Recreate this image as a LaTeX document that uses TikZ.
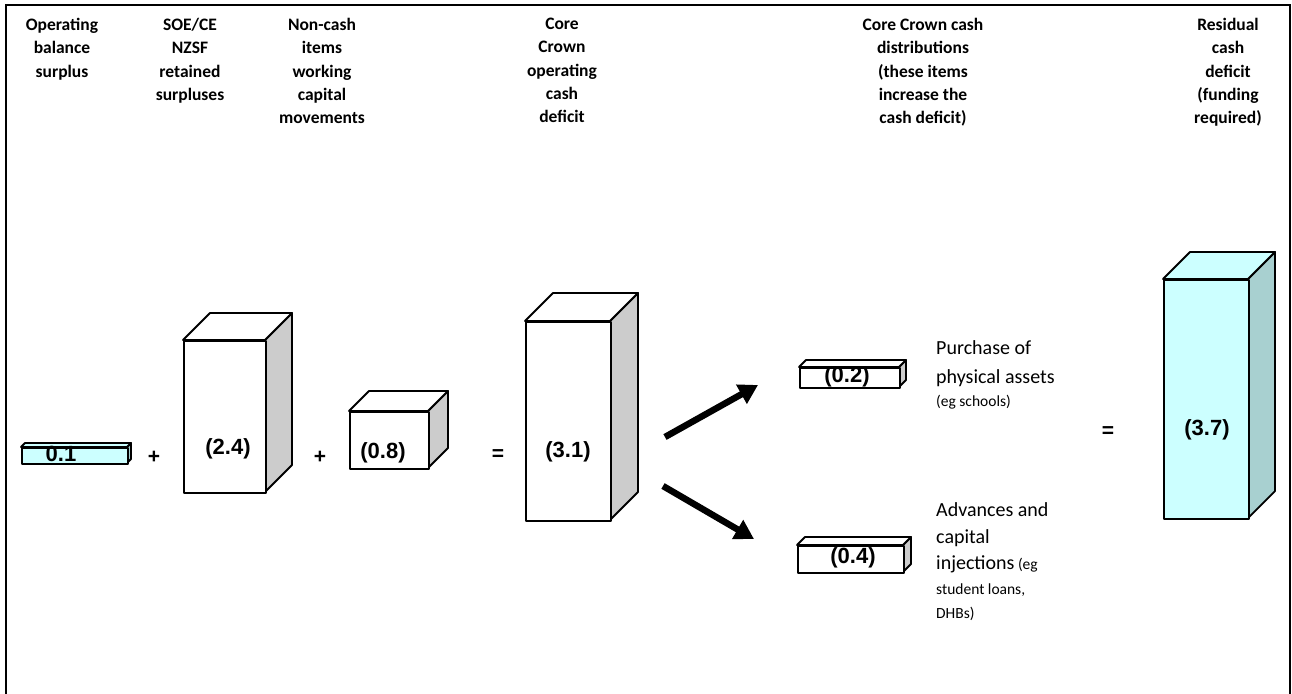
\documentclass[tikz,border=0pt]{standalone}
\usepackage{fontspec}
\setmainfont{Carlito}
\newfontfamily\labfont{Liberation Sans}
\usetikzlibrary{arrows.meta}
\definecolor{cyanf}{HTML}{CCFFFF}
\definecolor{cyans}{HTML}{A8D0D0}
\definecolor{greys}{HTML}{CCCCCC}
\tikzset{
  hdr/.style={anchor=north, align=center, inner sep=0pt, font=\bfseries\fontsize{17.5}{23.3}\selectfont},
  face/.style={draw=black, line width=1.8pt, line join=round},
  val/.style={inner sep=0pt, font=\labfont\bfseries\fontsize{22}{24}\selectfont},
  sign/.style={inner sep=0pt, font=\labfont\bfseries\fontsize{21}{24}\selectfont},
  big/.style={anchor=base west, inner sep=0pt, font=\fontsize{20}{24}\selectfont},
  small/.style={anchor=base west, inner sep=0pt, font=\fontsize{15.5}{18}\selectfont},
  flow/.style={line width=6.5pt, -{Triangle[length=19pt,width=21pt]}}
}
% name, x1, y1, x2, y2, depth, front colour, side colour
\newcommand\cubo[8]{%
  \path[face, fill=#8] (#4,#5) -- (#4+#6,#5-#6) -- (#4+#6,#3-#6) -- (#4,#3) -- cycle;
  \path[face, fill=#7] (#2,#3) -- (#2+#6,#3-#6) -- (#4+#6,#3-#6) -- (#4,#3) -- cycle;
  \node[face, fill=#7, inner sep=0pt, minimum width={#4-#2}, minimum height={#5-#3}, anchor=north west] (#1) at (#2,#3) {};
}
\begin{document}
\begin{tikzpicture}[x=1pt,y=-1pt]
\useasboundingbox (0,0) rectangle (1292,693);
% frame
\draw[line width=2pt] (6,694) -- (6,5) -- (1290,5) -- (1290,694);

% headers
\node[hdr] (h1) at (62,18) {Operating\\balance\\surplus};
\node[hdr] (h2) at (190,18) {SOE/CE\\NZSF\\retained\\surpluses};
\node[hdr] (h3) at (322,18) {Non-cash\\items\\working\\capital\\movements};
\node[hdr] (h4) at (562,18) {Core\\Crown\\operating\\cash\\deficit};
\node[hdr] (h5) at (923,18) {Core Crown cash\\distributions\\(these items\\increase the\\cash deficit)};
\node[hdr] (h6) at (1228,18) {Residual\\cash\\deficit\\(funding\\required)};

% boxes
\cubo{b01}{21}{447}{127}{463}{4}{cyanf}{cyans}
\cubo{b24}{183}{340}{265}{492}{27}{white}{greys}
\cubo{b08}{349}{411}{428}{468}{20}{white}{greys}
\cubo{b31}{525}{321}{610}{520}{28}{white}{greys}
\cubo{b02}{799}{367}{899}{387}{7}{white}{greys}
\cubo{b04}{797}{545}{903}{572}{8}{white}{greys}
\cubo{b37}{1163}{279}{1248}{518}{27}{cyanf}{cyans}

% values
\node[val] (v01) at (61,454) {0.1};
\node[val] (v24) at (228,449) {(2.4)};
\node[val] (v08) at (383,453) {(0.8)};
\node[val] (v31) at (568,452) {(3.1)};
\node[val] (v02) at (847,377) {(0.2)};
\node[val] (v04) at (853,558) {(0.4)};
\node[val] (v37) at (1207,430) {(3.7)};

% signs
\node[sign] (s1) at (154,457) {+};
\node[sign] (s2) at (320,457) {+};
\node[sign] (s3) at (498,455) {=};
\node[sign] (s4) at (1108,432) {=};

% arrows
\coordinate (a1s) at (665,437);
\coordinate (a1e) at (758,385);
\coordinate (a2s) at (663,486);
\coordinate (a2e) at (754,539);
\draw[flow] (a1s) -- (a1e);
\draw[flow] (a2s) -- (a2e);

% descriptions
\node[big] (t1) at (936,354) {Purchase of};
\node[big] (t2) at (936,383) {physical assets};
\node[small] (t3) at (936,406) {(eg schools)};
\node[big] (t4) at (936,516) {Advances and};
\node[big] (t5) at (936,543) {capital};
\node[big] (t6) at (936,569) {injections\fontsize{15.5}{18}\selectfont\ (eg};
\node[small] (t7) at (936,594) {student loans,};
\node[small] (t8) at (936,618) {DHBs)};
\end{tikzpicture}
\end{document}
